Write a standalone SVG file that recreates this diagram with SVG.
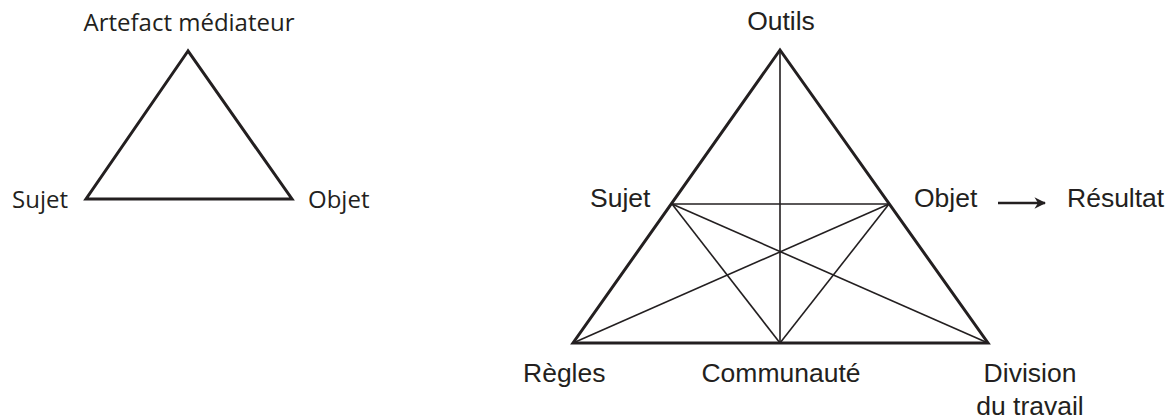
<svg xmlns="http://www.w3.org/2000/svg" width="1174" height="420" viewBox="0 0 1174 420">
<style>
.lbl{font-family:"Open Sans","Noto Sans",sans-serif;font-size:24px;fill:#231f20}
.rl{font-family:"Liberation Sans",Arial,sans-serif;font-size:26.5px;fill:#231f20}
.outer{fill:none;stroke:#231f20;stroke-width:3;stroke-linejoin:miter}
.inner{fill:none;stroke:#231f20;stroke-width:1.6}
.arr{fill:none;stroke:#231f20;stroke-width:2.6}
</style>
<defs>
<marker id="ah" viewBox="0 0 10 10" refX="9" refY="5" markerWidth="4.5" markerHeight="4.5" orient="auto" markerUnits="strokeWidth">
<path d="M0,0 L10,5 L0,10 L3,5 Z" fill="#231f20"/>
</marker>
</defs>
<rect width="1174" height="420" fill="#ffffff"/>
<g id="left-triangle">
<polygon class="outer" points="188,51 86,199 292,199"/>
</g>
<g id="node-artefact"><text class="lbl" x="189" y="31" text-anchor="middle">Artefact médiateur</text></g>
<g id="node-sujet-l"><text class="lbl" x="12" y="208">Sujet</text></g>
<g id="node-objet-l"><text class="lbl" x="308" y="208">Objet</text></g>

<g id="connectors">
<polygon class="outer" points="780,50 573,343 988,343"/>
<line class="inner" x1="780" y1="50" x2="780" y2="343"/>
<line class="inner" x1="672" y1="204" x2="889" y2="204"/>
<line class="inner" x1="672" y1="204" x2="780" y2="343"/>
<line class="inner" x1="889" y1="204" x2="780" y2="343"/>
<line class="inner" x1="672" y1="204" x2="988" y2="343"/>
<line class="inner" x1="889" y1="204" x2="573" y2="343"/>
<line class="arr" x1="998" y1="203" x2="1045" y2="203" marker-end="url(#ah)"/>
</g>
<g id="node-outils"><text class="rl" x="781" y="30" text-anchor="middle">Outils</text></g>
<g id="node-sujet"><text class="rl" x="590" y="207">Sujet</text></g>
<g id="node-objet"><text class="rl" x="914" y="207">Objet</text></g>
<g id="node-resultat"><text class="rl" x="1067" y="207">Résultat</text></g>
<g id="node-regles"><text class="rl" x="523" y="382">Règles</text></g>
<g id="node-communaute"><text class="rl" x="781" y="382" text-anchor="middle">Communauté</text></g>
<g id="node-division"><text class="rl" x="1030" y="382" text-anchor="middle">Division<tspan x="1030" y="415">du travail</tspan></text></g>
</svg>
